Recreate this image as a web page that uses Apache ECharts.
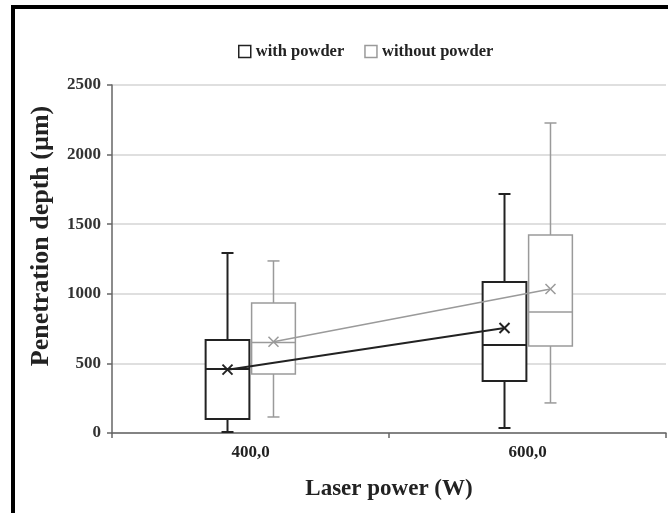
<!DOCTYPE html>
<html>
<head>
<meta charset="utf-8">
<script src="https://cdn.jsdelivr.net/npm/echarts@6/dist/echarts.min.js"></script>
<style>html,body{margin:0;padding:0;background:#fff;}#c{width:668px;height:513px;}</style>
</head>
<body>
<div id="c"></div>
<script>
var categories = ['400,0', '600,0'];
var seriesNames = ['with powder', 'without powder'];
// with powder
var wpMin = [7, 36];
var wpQ1 = [100, 374];
var wpMedian = [460, 632];
var wpQ3 = [668, 1085];
var wpMax = [1293, 1717];
var wpMean = [455, 754];
// without powder
var wopMin = [115, 216];
var wopQ1 = [424, 625];
var wopMedian = [650, 869];
var wopQ3 = [934, 1422];
var wopMax = [1236, 2227];
var wopMean = [656, 1034];
var yTicks = [0, 500, 1000, 1500, 2000, 2500];

var FONT = 'Liberation Serif';
var DARK = '#222222';
var LIGHT = '#9a9a9a';
var OFF = 0.083;      // box offset as fraction of band
var BOX_FRAC = 0.158; // box width as fraction of band

function rows(mn, q1, md, q3, mx, mean) {
  return categories.map(function (c, i) { return [i, mn[i], q1[i], md[i], q3[i], mx[i], mean[i]]; });
}

function makeRender(offFrac, color, lw) {
  return function (params, api) {
    var c = api.value(0);
    var band = api.size([1, 0])[0];
    var x = api.coord([c, 0])[0] + band * offFrac;
    var w = band * BOX_FRAC;
    function py(v) { return api.coord([c, v])[1]; }
    var yMin = py(api.value(1)), yQ1 = py(api.value(2)), yMed = py(api.value(3)),
        yQ3 = py(api.value(4)), yMax = py(api.value(5)), yMean = py(api.value(6));
    var cap = 6, m = 5;
    var st = { stroke: color, lineWidth: lw, fill: null };
    return {
      type: 'group',
      children: [
        { type: 'line', shape: { x1: x, y1: yMax, x2: x, y2: yQ3 }, style: st },
        { type: 'line', shape: { x1: x, y1: yQ1, x2: x, y2: yMin }, style: st },
        { type: 'line', shape: { x1: x - cap, y1: yMax, x2: x + cap, y2: yMax }, style: st },
        { type: 'line', shape: { x1: x - cap, y1: yMin, x2: x + cap, y2: yMin }, style: st },
        { type: 'rect', shape: { x: x - w / 2, y: yQ3, width: w, height: yQ1 - yQ3 }, style: { fill: '#fff', stroke: color, lineWidth: lw } },
        { type: 'line', shape: { x1: x - w / 2, y1: yMed, x2: x + w / 2, y2: yMed }, style: st },
        { type: 'line', shape: { x1: x - m, y1: yMean - m, x2: x + m, y2: yMean + m }, style: st },
        { type: 'line', shape: { x1: x - m, y1: yMean + m, x2: x + m, y2: yMean - m }, style: st }
      ]
    };
  };
}

var chart = echarts.init(document.getElementById('c'), null, { renderer: 'canvas' });
chart.setOption({
  animation: false,
  backgroundColor: '#fff',
  textStyle: { fontFamily: FONT },
  graphic: [
    { type: 'rect', shape: { x: 11, y: 5, width: 657, height: 4 }, style: { fill: '#000' }, z: 100 },
    { type: 'rect', shape: { x: 11, y: 5, width: 4, height: 508 }, style: { fill: '#000' }, z: 100 }
  ],
  legend: {
    top: 38,
    left: 233,
    itemWidth: 12,
    itemHeight: 12,
    itemGap: 20,
    textStyle: { fontFamily: FONT, fontWeight: 'bold', fontSize: 16.5, color: '#222' },
    data: [
      { name: seriesNames[0], icon: 'rect', itemStyle: { color: '#fff', borderColor: DARK, borderWidth: 1.5 } },
      { name: seriesNames[1], icon: 'rect', itemStyle: { color: '#fff', borderColor: LIGHT, borderWidth: 1.5 } }
    ]
  },
  grid: { left: 112, right: 2, top: 85, bottom: 80, containLabel: false },
  xAxis: [
    {
      type: 'category',
      data: categories,
      boundaryGap: true,
      name: 'Laser power (W)',
      nameLocation: 'middle',
      nameGap: 45,
      nameTextStyle: { fontFamily: FONT, fontWeight: 'bold', fontSize: 23, color: '#222' },
      axisLine: { lineStyle: { color: '#666', width: 1.5 } },
      axisTick: { show: true, alignWithLabel: false, length: 5, lineStyle: { color: '#666', width: 1.5 } },
      axisLabel: { fontFamily: FONT, fontWeight: 'bold', fontSize: 17, color: '#222', margin: 11 },
      splitLine: { show: false }
    },
    { type: 'value', min: 0, max: 2, show: false }
  ],
  yAxis: {
    type: 'value',
    min: 0,
    max: 2500,
    interval: 500,
    name: 'Penetration depth (\u00b5m)',
    nameLocation: 'middle',
    nameGap: 58,
    nameTextStyle: { fontFamily: FONT, fontWeight: 'bold', fontSize: 26, color: '#222', padding: [0, 0, 0, 46] },
    axisLine: { show: true, lineStyle: { color: '#666', width: 1.5 } },
    axisTick: { show: true, length: 5, lineStyle: { color: '#666', width: 1.5 } },
    axisLabel: { fontFamily: FONT, fontWeight: 'bold', fontSize: 17, color: '#333', margin: 11,
      formatter: function (v) { return yTicks.indexOf(v) >= 0 ? String(v) : ''; } },
    splitLine: { show: true, lineStyle: { color: '#d4d4d4', width: 1.5 } }
  },
  series: [
    {
      name: seriesNames[0], type: 'custom', xAxisIndex: 0, z: 2,
      itemStyle: { color: DARK },
      renderItem: makeRender(-OFF, DARK, 2),
      encode: { x: 0, y: [1, 2, 3, 4, 5, 6] },
      data: rows(wpMin, wpQ1, wpMedian, wpQ3, wpMax, wpMean)
    },
    {
      name: seriesNames[1], type: 'custom', xAxisIndex: 0, z: 2,
      itemStyle: { color: LIGHT },
      renderItem: makeRender(OFF, LIGHT, 1.5),
      encode: { x: 0, y: [1, 2, 3, 4, 5, 6] },
      data: rows(wopMin, wopQ1, wopMedian, wopQ3, wopMax, wopMean)
    },
    {
      name: seriesNames[1], type: 'line', xAxisIndex: 1, z: 5,
      showSymbol: false, symbol: 'none',
      lineStyle: { color: LIGHT, width: 1.5 },
      data: wopMean.map(function (v, i) { return [i + 0.5 + OFF, v]; })
    },
    {
      name: seriesNames[0], type: 'line', xAxisIndex: 1, z: 6,
      showSymbol: false, symbol: 'none',
      lineStyle: { color: DARK, width: 2 },
      data: wpMean.map(function (v, i) { return [i + 0.5 - OFF, v]; })
    }
  ]
});
</script>
</body>
</html>
